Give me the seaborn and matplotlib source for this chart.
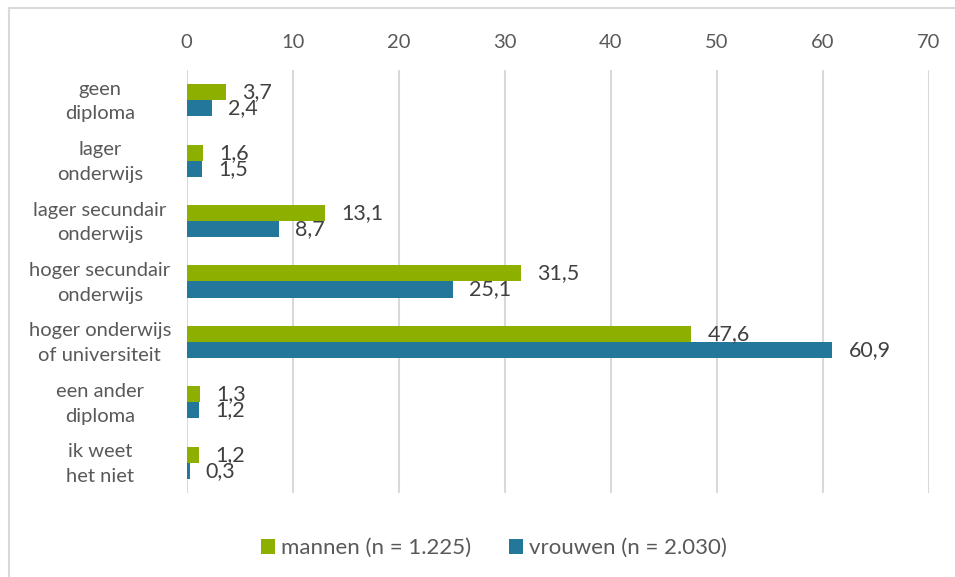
import pandas as pd
import numpy as np
import matplotlib.pyplot as plt
import matplotlib.transforms as mtrans
import seaborn as sns
from matplotlib.patches import Patch
from matplotlib.lines import Line2D

# data
categories = [
    "geen\ndiploma",
    "lager\nonderwijs",
    "lager secundair\nonderwijs",
    "hoger secundair\nonderwijs",
    "hoger onderwijs\nof universiteit",
    "een ander\ndiploma",
    "ik weet\nhet niet",
]
mannen = [3.7, 1.6, 13.1, 31.5, 47.6, 1.3, 1.2]
vrouwen = [2.4, 1.5, 8.7, 25.1, 60.9, 1.2, 0.3]
series = ["mannen (n = 1.225)", "vrouwen (n = 2.030)"]
xticks = [0, 10, 20, 30, 40, 50, 60, 70]

GREEN = "#8CAF00"
BLUE = "#23779B"
GRID = "#D9D9D9"
TXT = "#595959"
LBL = "#404040"

df = pd.DataFrame({
    "cat": categories * 2,
    "val": mannen + vrouwen,
    "serie": [series[0]] * len(categories) + [series[1]] * len(categories),
})

sns.set_style("white")
plt.rcParams["font.family"] = ["Lato", "DejaVu Sans"]

fig = plt.figure(figsize=(9.55, 5.77), dpi=100)
ax = fig.add_axes([0.1953, 0.1456, 0.9728 - 0.1953, 0.8787 - 0.1456])

sns.barplot(data=df, y="cat", x="val", hue="serie", orient="h",
            palette=[GREEN, BLUE], width=0.53, saturation=1,
            edgecolor="none", legend=False, ax=ax)

ax.set_xlim(0, 70)
ax.set_ylim(6.5, -0.5)
ax.set_xticks(xticks)
ax.xaxis.tick_top()
ax.tick_params(axis="x", length=0, pad=14, labelsize=14.5, labelcolor=TXT)
ax.tick_params(axis="y", length=0, pad=62.5, labelsize=14.5, labelcolor=TXT)
# nudge the two-line category labels up a little
shift = mtrans.ScaledTranslation(0, 4 / 100, fig.dpi_scale_trans)
for t in ax.get_yticklabels():
    t.set_horizontalalignment("center")
    t.set_linespacing(1.55)
    t.set_transform(t.get_transform() + shift)
ax.set_xlabel("")
ax.set_ylabel("")
ax.grid(axis="x", color=GRID, linewidth=1.5)
ax.set_axisbelow(True)
for s in ax.spines.values():
    s.set_visible(False)

# data labels, comma as decimal sign
for cont in ax.containers:
    for bar in cont:
        w = bar.get_width()
        y = bar.get_y() + bar.get_height() / 2
        ax.annotate(f"{w:.1f}".replace(".", ","), (w, y),
                    xytext=(11.5, 0), textcoords="offset points",
                    ha="left", va="center", fontsize=15.5, color=LBL)

handles = [Patch(facecolor=GREEN, edgecolor="none"),
           Patch(facecolor=BLUE, edgecolor="none")]
fig.legend(handles, series, loc="center", bbox_to_anchor=(0.517, 0.050),
           ncol=2, frameon=False, fontsize=16, handlelength=0.63,
           handleheight=0.63, handletextpad=0.27, columnspacing=1.7,
           labelcolor=TXT)

# chart border (only top and left visible in the crop)
fig.add_artist(Line2D([9 / 955, 1], [1 - 8 / 577] * 2, color=GRID, lw=1.5,
                      transform=fig.transFigure))
fig.add_artist(Line2D([9 / 955] * 2, [0, 1 - 8 / 577], color=GRID, lw=1.5,
                      transform=fig.transFigure))

fig.savefig("out.png", dpi=100)
